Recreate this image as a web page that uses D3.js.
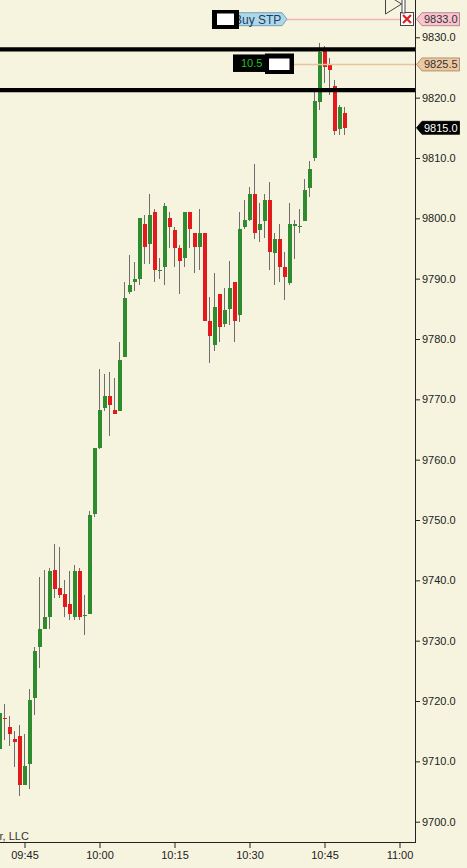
<!DOCTYPE html>
<html>
<head>
<meta charset="utf-8">
<script src="https://cdn.jsdelivr.net/npm/d3@7"></script>
<style>
html,body{margin:0;padding:0;background:#F6F4DE;}
svg{display:block;}
text{font-family:"Liberation Sans",Arial,sans-serif;}
</style>
</head>
<body>
<svg id="chart" width="467" height="868"></svg>
<script>
// ---- data (1-minute bars) ----
const times = ["09:40","09:41","09:42","09:43","09:44","09:45","09:46","09:47","09:48","09:49",
"09:50","09:51","09:52","09:53","09:54","09:55","09:56","09:57","09:58","09:59",
"10:00","10:01","10:02","10:03","10:04","10:05","10:06","10:07","10:08","10:09",
"10:10","10:11","10:12","10:13","10:14","10:15","10:16","10:17","10:18","10:19",
"10:20","10:21","10:22","10:23","10:24","10:25","10:26","10:27","10:28","10:29",
"10:30","10:31","10:32","10:33","10:34","10:35","10:36","10:37","10:38","10:39",
"10:40","10:41","10:42","10:43","10:44","10:45","10:46","10:47","10:48","10:49"];
const opens = [9712,9717.25,9715.75,9713.75,9714.25,9706,9709.5,9720.5,9729,9732,
9734,9741.75,9738.75,9737.75,9736,9734,9741.5,9734.25,9734.5,9751,
9762,9768.5,9770.5,9768.25,9768,9777,9787.75,9789.5,9790,9799,
9795.75,9801,9791.25,9792,9800,9798,9795,9793.5,9801,9797.5,
9795.25,9797.5,9783,9779,9787.5,9782.5,9785,9789.5,9784,9798.5,
9799.75,9804,9798,9799.5,9803,9794.25,9796.5,9792,9789.25,9799,
9798.5,9799.5,9805,9810,9819.25,9828,9825.5,9822,9814.75,9817.5];
const highs = [9719,9719.5,9717.5,9715,9716,9714.5,9722,9729,9740.5,9741.75,
9742,9746,9745.5,9740,9741.5,9742.5,9742,9737.5,9751.5,9762,
9775,9774.25,9774.5,9773.5,9779.5,9789.5,9794,9792.75,9800,9800.5,
9804,9801.5,9793.5,9802.5,9801,9798.5,9795.5,9801,9801,9797.5,
9801.5,9797.5,9787,9791,9787.5,9788.5,9793,9789.5,9801,9803,
9805.25,9809,9802.5,9804,9806,9797.5,9799,9794.5,9802.5,9799.75,
9801.5,9806.5,9809.5,9821.5,9829,9828.5,9826.5,9823,9818.75,9818.5];
const lows = [9711,9713.5,9712.5,9709,9704.25,9706,9705.5,9717.75,9725.5,9732,
9732,9737,9737,9734,9733.5,9733.5,9733.5,9731,9734.5,9750.5,
9761.75,9768,9764,9767.5,9768,9777,9787.5,9788,9789,9792.5,
9792.5,9789.5,9790,9789,9795,9792,9787.5,9792,9795,9791,
9791.5,9783,9776,9778,9779.5,9782,9782.25,9779.5,9782.75,9798.25,
9799.5,9796.5,9796,9796.75,9791.5,9789,9789.5,9786.5,9789,9793.25,
9797.5,9799.5,9803.5,9809.5,9818,9822.5,9820.5,9813.75,9813.75,9813.75];
const closes = [9718,9717,9714.5,9713.25,9706,9709.25,9720.25,9728.25,9732,9734,
9741.5,9738.5,9737.5,9735.5,9734.5,9741.5,9734,9734.25,9750.75,9762,
9768.25,9770.5,9769,9767.5,9776.5,9786.75,9789,9790,9800,9795.25,
9800.5,9791.5,9791.5,9802,9798.5,9795,9793,9801,9798.25,9795.25,
9797.5,9783,9780.5,9785.25,9782,9784.75,9788.5,9783,9798.25,9799.75,
9804,9797.5,9799,9803,9794.5,9796.5,9792,9790.25,9799,9799,
9798.75,9804.75,9808.25,9819.5,9827.5,9825,9824.5,9814.5,9818.5,9815];

const xTickLabels = ["09:45","10:00","10:15","10:30","10:45","11:00"];
const yTickValues = [9700,9710,9720,9730,9740,9750,9760,9770,9780,9790,9800,9810,9820,9830];

// horizontal levels
const levelLines = [9828.0, 9821.25];   // thick black lines
const stopPrice = 9833.0;               // Buy STP order
const entryPrice = 9825.5;              // position avg price
const lastPrice = 9815.0;
const positionLabel = "10.5";
const orderLabel = "Buy STP";
const copyrightText = "r, LLC";

// ---- build ----
const parse = d3.timeParse("%H:%M");
const fmt = d3.timeFormat("%H:%M");
const bars = times.map((t,i)=>({t:parse(t),o:opens[i],h:highs[i],l:lows[i],c:closes[i]}));

const W = 467, H = 868;
const plotRight = 415.5, plotBottom = 842.5;
const svg = d3.select("#chart");
svg.append("rect").attr("width",W).attr("height",H).attr("fill","#F6F4DE");

const x = d3.scaleTime().domain([parse("09:45"), parse("11:00")]).range([24.5, 399.5]);
const y = d3.scaleLinear().domain([9700, 9830]).range([821.7, 37.3]);

const plot = svg.append("g");
plot.append("clipPath").attr("id","clip").append("rect")
  .attr("x",0).attr("y",0).attr("width",plotRight).attr("height",plotBottom);
const g = plot.append("g").attr("clip-path","url(#clip)");

const GREEN = "#2E8B2E", RED = "#E31A1C", WICK = "#6E6E6E";

// wicks
g.selectAll("line.wick").data(bars).join("line")
  .attr("class","wick")
  .attr("x1",d=>x(d.t)).attr("x2",d=>x(d.t))
  .attr("y1",d=>y(d.h)).attr("y2",d=>y(d.l))
  .attr("stroke",WICK).attr("stroke-width",1)
  .attr("shape-rendering","crispEdges");

// bodies
g.selectAll("rect.body").data(bars).join("rect")
  .attr("class","body")
  .attr("x",d=>x(d.t)-1.5).attr("width",4)
  .attr("y",d=>y(Math.max(d.o,d.c)))
  .attr("height",d=>Math.max(1.2, Math.abs(y(d.o)-y(d.c))))
  .attr("fill",d=>d.c>=d.o?GREEN:RED)
  .attr("shape-rendering","crispEdges");

// thick black level lines
g.selectAll("line.level").data(levelLines).join("line")
  .attr("class","level")
  .attr("x1",0).attr("x2",plotRight)
  .attr("y1",d=>y(d)).attr("y2",d=>y(d))
  .attr("stroke","#000").attr("stroke-width",4.3);

// entry price line (tan)
g.append("line")
  .attr("x1",294).attr("x2",plotRight)
  .attr("y1",Math.round(y(entryPrice))+0.5).attr("y2",Math.round(y(entryPrice))+0.5)
  .attr("stroke","#E6C49E").attr("stroke-width",1.5);

// stop order line (pink)
g.append("line")
  .attr("x1",287).attr("x2",400)
  .attr("y1",Math.round(y(stopPrice))+0.5).attr("y2",Math.round(y(stopPrice))+0.5)
  .attr("stroke","#F4B4BE").attr("stroke-width",1.5);

// Buy STP order label
const sy = y(stopPrice);
g.append("path")
  .attr("d",`M236,${sy-6.5}H282L287,${sy}L282,${sy+6.5}H236Z`)
  .attr("fill","#AED8E8").attr("stroke","#5B8FB0").attr("stroke-width",0.8);
g.append("text").attr("x",234).attr("y",sy).attr("dy","0.36em")
  .attr("font-size","12px").attr("fill","#1E3A66").text(orderLabel);
g.append("rect").attr("x",212).attr("y",10).attr("width",27).attr("height",19).attr("fill","#000");
g.append("rect").attr("x",217).attr("y",13.5).attr("width",17).attr("height",11.5).attr("fill","#fff");

// position label
const ey = y(entryPrice);
g.append("rect").attr("x",233).attr("y",ey-10).attr("width",33).attr("height",17.5).attr("fill","#000");
g.append("text").attr("x",241).attr("y",ey-1).attr("dy","0.36em")
  .attr("font-size","11px").attr("fill","#22C322").text(positionLabel);
g.append("rect").attr("x",265).attr("y",53.5).attr("width",29).attr("height",20.5).attr("fill","#000");
g.append("rect").attr("x",269).attr("y",58.5).attr("width",20.5).attr("height",11.5).attr("fill","#fff");

// cancel X box
g.append("rect").attr("x",400.5).attr("y",12.5).attr("width",13).attr("height",13)
  .attr("fill","#fff").attr("stroke","#444").attr("stroke-width",1);
g.append("path").attr("d","M403,15L411,23M411,15L403,23")
  .attr("stroke","#E02020").attr("stroke-width",2.2);

// small triangle marker at top
g.append("path").attr("d","M385.5,-6L401.5,4L385.5,14Z")
  .attr("fill","#F6F4DE").attr("stroke","#444").attr("stroke-width",1);
g.append("rect").attr("x",402).attr("y",-1).attr("width",3).attr("height",14)
  .attr("fill","#fff").attr("stroke","#444").attr("stroke-width",1);

// copyright text
svg.append("text").attr("x",-0.5).attr("y",839.5)
  .attr("font-size","11px").attr("fill","#333").text(copyrightText);

// ---- axes ----
const xAxis = d3.axisBottom(x)
  .tickValues(xTickLabels.map(parse))
  .tickFormat(fmt).tickSize(6).tickPadding(3).tickSizeOuter(0);
const gx = svg.append("g").attr("transform",`translate(0,${plotBottom-0.5})`).call(xAxis);
gx.select(".domain").remove();
gx.selectAll("line").attr("stroke","#222");
gx.selectAll("text").attr("font-size","11px").attr("fill","#222")
  .attr("font-family","'Liberation Sans',Arial,sans-serif");

const yAxis = d3.axisRight(y)
  .tickValues(yTickValues).tickFormat(d3.format(".1f"))
  .tickSize(5).tickPadding(2).tickSizeOuter(0);
const gy = svg.append("g").attr("transform",`translate(${plotRight-0.5},0)`).call(yAxis);
gy.select(".domain").remove();
gy.selectAll("line").attr("stroke","#222");
gy.selectAll("text").attr("font-size","11px").attr("fill","#222")
  .attr("font-family","'Liberation Sans',Arial,sans-serif");

// frame lines
svg.append("line").attr("x1",0).attr("x2",plotRight+0.5).attr("y1",plotBottom).attr("y2",plotBottom)
  .attr("stroke","#222").attr("stroke-width",1);
svg.append("line").attr("x1",plotRight).attr("x2",plotRight).attr("y1",0).attr("y2",plotBottom+0.5)
  .attr("stroke","#222").attr("stroke-width",1);

// ---- price markers on the right axis ----
const markers = [
  {p:stopPrice, fill:"#F8C4CE", stroke:"#B07080", text:"#333"},
  {p:entryPrice, fill:"#EEC7A0", stroke:"#A08060", text:"#333"},
  {p:lastPrice, fill:"#000", stroke:"#000", text:"#fff"}
];
const mg = svg.append("g");
mg.selectAll("path").data(markers).join("path")
  .attr("d",d=>{const yy=y(d.p);return `M416.5,${yy}L422,${yy-6.5}H459.5V${yy+6.5}H422Z`;})
  .attr("fill",d=>d.fill).attr("stroke",d=>d.stroke).attr("stroke-width",0.8);
mg.selectAll("text").data(markers).join("text")
  .attr("x",424).attr("y",d=>y(d.p)).attr("dy","0.36em")
  .attr("font-size","11px").attr("fill",d=>d.text)
  .text(d=>d3.format(".1f")(d.p));
</script>
</body>
</html>
